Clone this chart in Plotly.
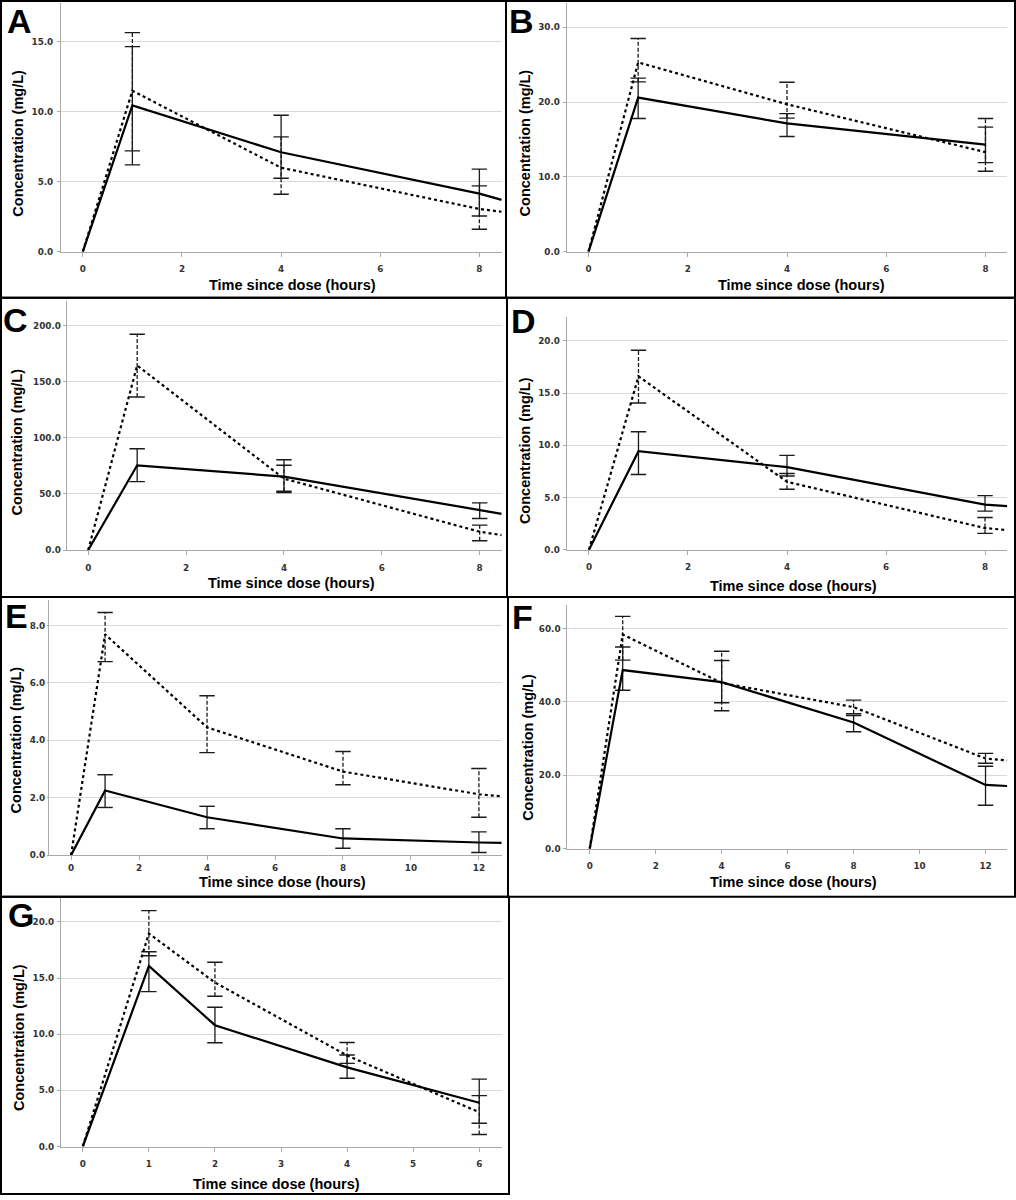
import plotly.graph_objects as go

W, H = 1016, 1200

# ---- data (mg/L vs hours) ----
# A
a_time = [0, 1, 4, 8]
a_solid = [0, 10.45, 7.1, 4.15]
a_dotted = [0, 11.5, 6.0, 3.05]
a_solid_lo = [6.2, 5.25, 2.55]
a_solid_hi = [14.65, 9.75, 5.9]
a_dotted_lo = [7.2, 4.1, 1.6]
a_dotted_hi = [15.65, 8.2, 4.7]
a_tail = [8.45, 3.7, 2.85]  # line runs on to the axis edge

# B
b_time = [0, 1, 4, 8]
b_solid = [0, 20.6, 17.15, 14.3]
b_dotted = [0, 25.3, 19.7, 13.3]
b_solid_lo = [17.8, 15.4, 11.9]
b_solid_hi = [23.2, 18.45, 16.65]
b_dotted_lo = [22.7, 17.85, 10.75]
b_dotted_hi = [28.5, 22.65, 17.8]
b_tail = None

# C
c_time = [0, 1, 4, 8]
c_solid = [0, 75.6, 65.5, 35.3]
c_dotted = [0, 164.7, 63.7, 16.3]
c_solid_lo = [61.0, 51.3, 28.1]
c_solid_hi = [90.4, 80.6, 42.1]
c_dotted_lo = [136.6, 52.5, 8.3]
c_dotted_hi = [192.6, 75.6, 22.2]
c_tail = [8.45, 32.3, 13.3]

# D
d_time = [0, 1, 4, 8]
d_solid = [0, 9.44, 7.9, 4.32]
d_dotted = [0, 16.6, 6.5, 2.07]
d_solid_lo = [7.2, 7.06, 3.69]
d_solid_hi = [11.3, 9.03, 5.18]
d_dotted_lo = [14.05, 5.79, 1.56]
d_dotted_hi = [19.1, 7.3, 3.08]
d_tail = [8.45, 4.17, 1.88]

# E
e_time = [0, 1, 4, 8, 12]
e_solid = [0, 2.25, 1.32, 0.58, 0.44]
e_dotted = [0, 7.69, 4.45, 2.91, 2.12]
e_solid_lo = [1.66, 0.92, 0.24, 0.09]
e_solid_hi = [2.80, 1.70, 0.92, 0.81]
e_dotted_lo = [6.74, 3.57, 2.45, 1.32]
e_dotted_hi = [8.45, 5.55, 3.61, 3.02]
e_tail = [12.67, 0.43, 2.05]

# F
f_time = [0, 1, 4, 8, 12]
f_solid = [0, 48.7, 45.4, 34.4, 17.4]
f_dotted = [0, 58.4, 45.2, 38.6, 24.6]
f_solid_lo = [43.2, 39.8, 31.9, 11.85]
f_solid_hi = [55.0, 51.3, 36.3, 22.5]
f_dotted_lo = [51.4, 37.6, 36.8, 23.3]
f_dotted_hi = [63.35, 53.85, 40.5, 26.0]
f_tail = [12.66, 17.1, 24.1]

# G
g_time = [0, 1, 2, 4, 6]
g_solid = [0, 16.07, 10.8, 7.04, 3.9]
g_dotted = [0, 18.96, 14.6, 8.1, 3.05]
g_solid_lo = [13.79, 9.23, 6.07, 2.07]
g_solid_hi = [17.34, 12.4, 8.14, 6.0]
g_dotted_lo = [16.98, 13.37, 7.4, 1.07]
g_dotted_hi = [21.0, 16.4, 9.26, 4.53]
g_tail = None

panels = [
    dict(label='A', t=a_time, s=a_solid, d=a_dotted, slo=a_solid_lo, shi=a_solid_hi,
         dlo=a_dotted_lo, dhi=a_dotted_hi, tail=a_tail),
    dict(label='B', t=b_time, s=b_solid, d=b_dotted, slo=b_solid_lo, shi=b_solid_hi,
         dlo=b_dotted_lo, dhi=b_dotted_hi, tail=b_tail),
    dict(label='C', t=c_time, s=c_solid, d=c_dotted, slo=c_solid_lo, shi=c_solid_hi,
         dlo=c_dotted_lo, dhi=c_dotted_hi, tail=c_tail),
    dict(label='D', t=d_time, s=d_solid, d=d_dotted, slo=d_solid_lo, shi=d_solid_hi,
         dlo=d_dotted_lo, dhi=d_dotted_hi, tail=d_tail),
    dict(label='E', t=e_time, s=e_solid, d=e_dotted, slo=e_solid_lo, shi=e_solid_hi,
         dlo=e_dotted_lo, dhi=e_dotted_hi, tail=e_tail),
    dict(label='F', t=f_time, s=f_solid, d=f_dotted, slo=f_solid_lo, shi=f_solid_hi,
         dlo=f_dotted_lo, dhi=f_dotted_hi, tail=f_tail),
    dict(label='G', t=g_time, s=g_solid, d=g_dotted, slo=g_solid_lo, shi=g_solid_hi,
         dlo=g_dotted_lo, dhi=g_dotted_hi, tail=g_tail),
]

# ---- layout, in pixels of the 1016x1200 page ----
# plot box (left, right, top, bottom), x range, y max, tick steps,
# y-label standoff / y tick length, x-label standoff
geom = [
    dict(box=(61, 501.7, 3.3, 252.7), xr=(-0.44, 8.45), ymax=17.75, ystep=5, xstep=2,
         gap=2, ylen=3, xgap=5, xt=(292, 285.7), yt=(18.3, 144), lab=(19.3, 21)),
    dict(box=(566.7, 1007.3, 3.3, 252.7), xr=(-0.44, 8.44), ymax=33.2, ystep=10, xstep=2,
         gap=1, ylen=3, xgap=5, xt=(801, 285.7), yt=(525, 144), lab=(521, 21)),
    dict(box=(66.7, 501.7, 302, 552.3), xr=(-0.44, 8.45), ymax=222.5, ystep=50, xstep=2,
         gap=0, ylen=3, xgap=5, xt=(291.7, 585.3), yt=(16.7, 443.7), lab=(15, 321)),
    dict(box=(566.7, 1007.3, 318.7, 552), xr=(-0.45, 8.45), ymax=22.25, ystep=5, xstep=2,
         gap=1, ylen=3, xgap=5, xt=(793.3, 588.7), yt=(525.7, 452.3), lab=(523.7, 322)),
    dict(box=(49, 501.7, 603, 858.7), xr=(-0.65, 12.67), ymax=8.87, ystep=2, xstep=2,
         gap=0, ylen=1, xgap=0, xt=(282.7, 885.3), yt=(16, 743.5), lab=(16, 619)),
    dict(box=(567.3, 1007.3, 607.3, 852.3), xr=(-0.68, 12.66), ymax=66.5, ystep=20, xstep=2,
         gap=1, ylen=3, xgap=5, xt=(793.7, 885.3), yt=(527.7, 750.3), lab=(522, 620)),
    dict(box=(61, 501.7, 902, 1151.3), xr=(-0.33, 6.34), ymax=22.1, ystep=5, xstep=1,
         gap=1, ylen=3, xgap=5, xt=(276.7, 1189), yt=(18.3, 1042), lab=(20.7, 919)),
]

# panel frames
frames = [
    (1, 1, 506, 299), (506, 1, 1015, 299),
    (1, 299, 507, 599.5), (507, 299, 1015, 599.5),
    (1, 599.5, 508, 900.5), (508, 599.5, 1015, 900.5),
    (1, 900.5, 509, 1199),
]


def px(x):
    return x / W


def py(y):
    return 1 - y / H


tick_font = dict(family='DejaVu Sans', size=8.8, color='#333333', weight='bold')
title_font = dict(family='Liberation Sans, Arial', size=14.5, color='black', weight='bold')
axis_grey = '#a9a9a9'

fig = go.Figure()
annotations = []
shapes = []

for i, (p, g) in enumerate(zip(panels, geom)):
    n = '' if i == 0 else str(i + 1)
    xa, ya = 'x' + n, 'y' + n
    l, r, t, b = g['box']

    fig.layout['xaxis' + n] = dict(
        domain=[px(l), px(r)], range=list(g['xr']), anchor=ya,
        showgrid=False, zeroline=False, showline=True, linecolor=axis_grey, linewidth=1,
        ticks='outside', ticklen=4, tickcolor=axis_grey, tickwidth=1,
        tick0=0, dtick=g['xstep'], tickfont=tick_font, ticklabelstandoff=g['xgap'],
    )
    fig.layout['yaxis' + n] = dict(
        domain=[py(b), py(t)], range=[0, g['ymax']], anchor=xa,
        showgrid=True, gridcolor='#d9d9d9', gridwidth=1, zeroline=False,
        showline=True, linecolor=axis_grey, linewidth=1,
        ticks='outside', ticklen=g['ylen'], tickcolor=axis_grey, tickwidth=1,
        tick0=0, dtick=g['ystep'], tickformat='.1f', tickfont=tick_font,
        ticklabelstandoff=g['gap'],
    )

    # error bars: solid for the solid line, dashed for the dotted one
    for lo, hi, dash in [(p['slo'], p['shi'], 'solid'), (p['dlo'], p['dhi'], '4px,2px')]:
        ex, ey = [], []
        for tt, a, z in zip(p['t'][1:], lo, hi):
            ex += [tt, tt, None]
            ey += [a, z, None]
        fig.add_trace(go.Scatter(x=ex, y=ey, xaxis=xa, yaxis=ya, mode='lines',
                                 line=dict(color='#1a1a1a', width=1.3, dash=dash),
                                 hoverinfo='skip', showlegend=False))
        fig.add_trace(go.Scatter(x=p['t'][1:] * 2, y=lo + hi, xaxis=xa, yaxis=ya,
                                 mode='markers',
                                 marker=dict(symbol='line-ew', size=11,
                                             line=dict(color='#1a1a1a', width=1.4)),
                                 hoverinfo='skip', showlegend=False))

    # mean curves
    lx = list(p['t'])
    sy = list(p['s'])
    dy = list(p['d'])
    if p['tail']:
        lx.append(p['tail'][0])
        sy.append(p['tail'][1])
        dy.append(p['tail'][2])
    fig.add_trace(go.Scatter(x=lx, y=dy, xaxis=xa, yaxis=ya, mode='lines',
                             line=dict(color='black', width=2.2, dash='3px,3px'),
                             showlegend=False))
    fig.add_trace(go.Scatter(x=lx, y=sy, xaxis=xa, yaxis=ya, mode='lines',
                             line=dict(color='black', width=2.2),
                             showlegend=False))

    # titles and panel letter
    annotations.append(dict(text='Time since dose (hours)', xref='paper', yref='paper',
                            x=px(g['xt'][0]), y=py(g['xt'][1]), xanchor='center',
                            yanchor='middle', showarrow=False, font=title_font))
    annotations.append(dict(text='Concentration (mg/L)', xref='paper', yref='paper',
                            x=px(g['yt'][0]), y=py(g['yt'][1]), xanchor='center',
                            yanchor='middle', textangle=-90, showarrow=False,
                            font=title_font))
    annotations.append(dict(text=p['label'], xref='paper', yref='paper',
                            x=px(g['lab'][0]), y=py(g['lab'][1]), xanchor='center',
                            yanchor='middle', showarrow=False,
                            font=dict(family='Liberation Sans, Arial', size=34,
                                      color='black', weight='bold')))

for x0, y0, x1, y1 in frames:
    shapes.append(dict(type='rect', xref='paper', yref='paper',
                       x0=px(x0), x1=px(x1), y0=py(y0), y1=py(y1),
                       line=dict(color='black', width=2), layer='above'))

fig.update_layout(
    width=W, height=H,
    margin=dict(l=0, r=0, t=0, b=0),
    paper_bgcolor='white', plot_bgcolor='white',
    annotations=annotations, shapes=shapes,
    showlegend=False,
)

# drop the page's default body margin so the figure sits at the window corner
fig.write_html("out.html", config={'displayModeBar': False},
               post_script="document.body.style.margin='0';document.body.style.overflow='hidden';")
